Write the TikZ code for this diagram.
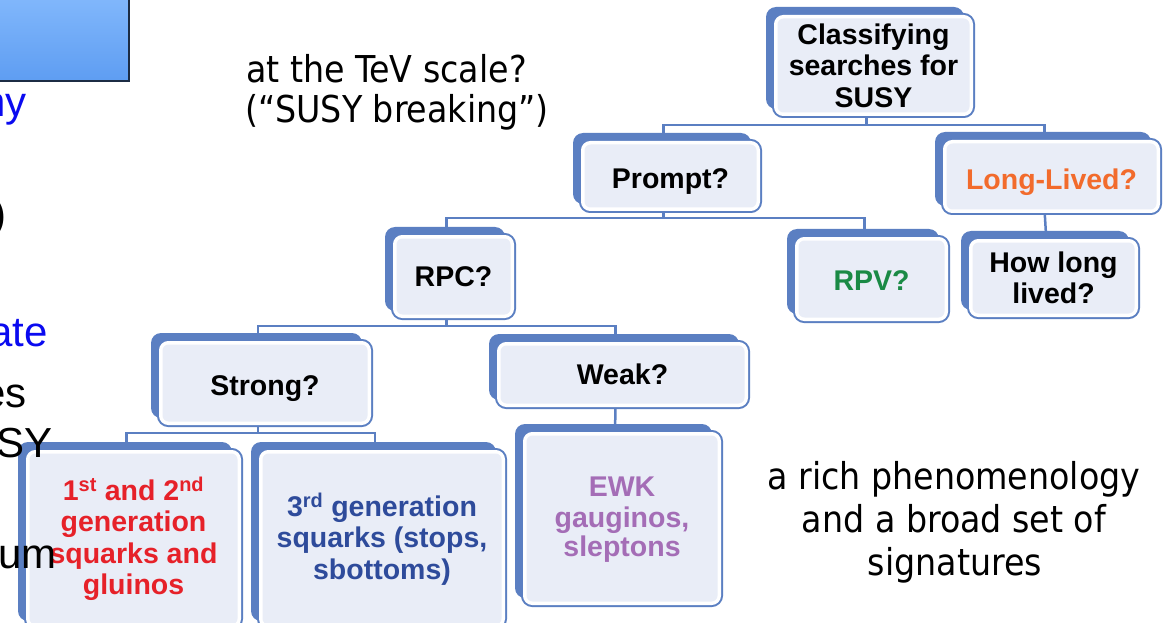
\documentclass[tikz,border=0pt]{standalone}
\usepackage{fontspec}
\setmainfont{Liberation Sans}
\newfontfamily\sidefont{DejaVu Sans Condensed}
\usetikzlibrary{backgrounds}

\definecolor{boxblue}{HTML}{5B7FC2}
\definecolor{boxfill}{HTML}{E9EDF7}
\definecolor{txtred}{HTML}{E62129}
\definecolor{txtnavy}{HTML}{2E4B9B}
\definecolor{txtpurple}{HTML}{A46DB6}
\definecolor{txtgreen}{HTML}{1A8A45}
\definecolor{txtorange}{HTML}{F26B2C}
\definecolor{slideblue}{HTML}{0A0AF0}
\definecolor{bartop}{HTML}{82B8FC}
\definecolor{barbottom}{HTML}{5E9DF2}
\definecolor{barline}{HTML}{1C2C44}

% a box of the tree: name, left, top, right, bottom (outer border), style, text
\newcommand\qnode[7]{%
  \node[qbox,#6,minimum width={(#4-#2-11)*1pt},minimum height={(#5-#3-11)*1pt}]
    (#1) at ({(#2+#4)/2},{(#3+#5)/2}) {#7};
  \coordinate (#1-t) at ([xshift=-7pt]#1.north);
  \coordinate (#1-b) at ([xshift=-7pt]#1.south);}
% the solid blue tab behind a box
\newcommand\backof[1]{%
  \path[backbox] ([shift={(-11.5,-11.5)}]#1.north west) rectangle ([shift={(-5.5,-3.5)}]#1.south east);}
% a label set a little low in its box, keeping its natural size
\newcommand\lowtext[2]{\raisebox{-#1pt}[\height][\depth]{#2}}

\begin{document}
\begin{tikzpicture}[x=1pt,y=-1pt,
  qbox/.style={rectangle, rounded corners=6pt, outer sep=0pt, inner sep=0pt, align=center,
    font=\fontsize{28.5}{31.5}\selectfont\bfseries,
    preaction={draw=boxblue, line width=11pt},
    preaction={draw=white, line width=7pt},
    fill=boxfill},
  conn/.style={draw=boxblue, line width=2.5pt, line cap=rect},
  backbox/.style={fill=boxblue, rounded corners=10pt},
  side/.style={inner sep=0pt, font=\sidefont\fontsize{37}{43}\selectfont},
  slide/.style={inner sep=0pt, font=\fontsize{42}{42}\selectfont}]
\useasboundingbox (0,0) rectangle (1163,623);
\clip (0,0) rectangle (1163,623);

% title bar of the slide
\draw[barline, line width=1.5pt, top color=bartop, bottom color=barbottom] (-5,-5) rectangle (129,81);

% the classification tree
\qnode{root}{772}{13}{975}{118}{}{Classifying\\searches for\\SUSY}
\qnode{prompt}{579}{139}{762}{213}{}{\lowtext{6}{Prompt?}}
\qnode{long}{941}{138}{1162}{215}{text=txtorange}{\lowtext{6}{Long-Lived?}}
\qnode{rpc}{391}{233}{516}{320}{}{RPC?}
\qnode{rpv}{793}{235}{950}{323}{text=txtgreen}{\lowtext{2}{RPV?}}
\qnode{howlong}{967}{237}{1140}{319}{}{How long\\lived?}
\qnode{strong}{157}{339}{373}{427}{}{\lowtext{6}{Strong?}}
\qnode{weak}{495}{340}{750}{409}{}{Weak?}
\qnode{first}{24}{448}{243}{630}{text=txtred}{1\textsuperscript{st} and 2\textsuperscript{nd}\\generation\\squarks and\\gluinos}
\qnode{third}{257}{448}{507}{630}{text=txtnavy}{3\textsuperscript{rd} generation\\squarks (stops,\\sbottoms)}
\qnode{ewk}{521}{430}{723}{607}{text=txtpurple}{\lowtext{3}{EWK}\\\lowtext{2}{gauginos,}\\sleptons}

\coordinate (bus1) at (0,125);
\coordinate (bus2) at (0,218);
\coordinate (bus3) at (0,326);
\coordinate (bus4) at (0,433);

\begin{pgfonlayer}{background}
  \draw[conn] (root-b) -- (root-b |- bus1);
  \draw[conn] (prompt-t) |- (bus1 -| long-t) -- (long-t);
  \draw[conn] (prompt-b) -- (prompt-b |- bus2);
  \draw[conn] (rpc-t) |- (bus2 -| rpv-t) -- (rpv-t);
  \draw[conn] (long-b) -- (howlong-t);
  \draw[conn] (rpc-b) -- (rpc-b |- bus3);
  \draw[conn] (strong-t) |- (bus3 -| weak-t) -- (weak-t);
  \draw[conn] (strong-b) -- (strong-b |- bus4);
  \draw[conn] (first-t) |- (bus4 -| third-t) -- (third-t);
  \draw[conn] (weak-b) -- (ewk-t);
  \backof{root}\backof{prompt}\backof{long}\backof{rpc}\backof{rpv}\backof{howlong}
  \backof{strong}\backof{weak}\backof{first}\backof{third}\backof{ewk}
\end{pgfonlayer}

% surrounding slide text
\node[side, anchor=base west] (tev1) at (246,83) {at the TeV scale?};
\node[side, anchor=base west] (tev2) at (245,123) {(“SUSY breaking”)};
\node[side, anchor=base] (rich1) at (954,489) {a rich phenomenology};
\node[side, anchor=base] (rich2) at (954,532) {and a broad set of};
\node[side, anchor=base] (rich3) at (955,575) {signatures};

\node[slide, anchor=base east, text=slideblue] (s1) at (27,117) {ny};
\node[slide, anchor=base east] (s2) at (7,229) {)};
\node[slide, anchor=base east, text=slideblue] (s3) at (48,346) {ate};
\node[slide, anchor=base east] (s4) at (27,407) {es};
\node[slide, anchor=base east] (s5) at (53,457) {SY};
\node[slide, anchor=base east] (s6) at (57,568) {um};
\end{tikzpicture}
\end{document}
